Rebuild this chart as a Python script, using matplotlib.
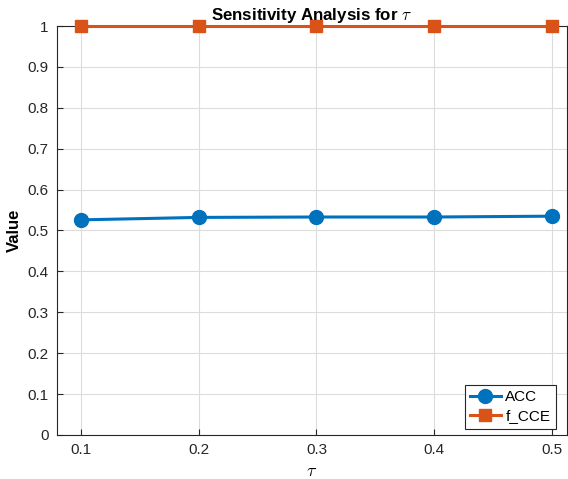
import numpy as np
import matplotlib.pyplot as plt

plt.rcParams['font.family'] = ['Liberation Sans', 'DejaVu Sans']
plt.rcParams['mathtext.fontset'] = 'cm'

tau = [0.1, 0.2, 0.3, 0.4, 0.5]
acc = [0.526, 0.532, 0.533, 0.533, 0.535]
f_cce = [1.0, 1.0, 1.0, 1.0, 1.0]

blue = '#0072BD'
orange = '#D95319'

fig = plt.figure(figsize=(5.68, 4.79), dpi=100)
ax = fig.add_axes([0.1004, 0.0919, 0.8976, 0.8538])

ax.plot(tau, acc, '-o', color=blue, lw=2.2, ms=10, label='ACC', zorder=3, clip_on=False)
ax.plot(tau, f_cce, '-s', color=orange, lw=2.2, ms=8, label='f_CCE', zorder=3, clip_on=False)

ax.set_xlim(0.0796, 0.5127)
ax.set_ylim(0, 1)
ax.set_xticks(tau)
ax.set_xticklabels(['0.1', '0.2', '0.3', '0.4', '0.5'])
ax.set_yticks(np.arange(0, 1.01, 0.1))
ax.set_yticklabels(['0', '0.1', '0.2', '0.3', '0.4', '0.5', '0.6', '0.7', '0.8', '0.9', '1'])

ax.grid(True, color='#dcdcdc', lw=0.8)
ax.set_axisbelow(True)
ax.tick_params(direction='in', length=4, labelsize=11, colors='#262626', pad=6)
for s in ax.spines.values():
    s.set_color('#262626')
    s.set_linewidth(0.8)

ax.set_title(r'Sensitivity Analysis for $\tau$', fontsize=12.2, fontweight='bold', pad=4)
ax.set_xlabel(r'$\tau$', fontsize=13)
ax.set_ylabel('Value', fontsize=12, fontweight='bold')

leg = ax.legend(loc='lower right', fontsize=11, fancybox=False, edgecolor='#262626',
                framealpha=1, handlelength=2.0, borderpad=0.35, labelspacing=0.35,
                handletextpad=0.3, borderaxespad=0, bbox_to_anchor=(0.978, 0.015))
leg.get_frame().set_linewidth(0.8)

fig.savefig('out.png', dpi=100)
